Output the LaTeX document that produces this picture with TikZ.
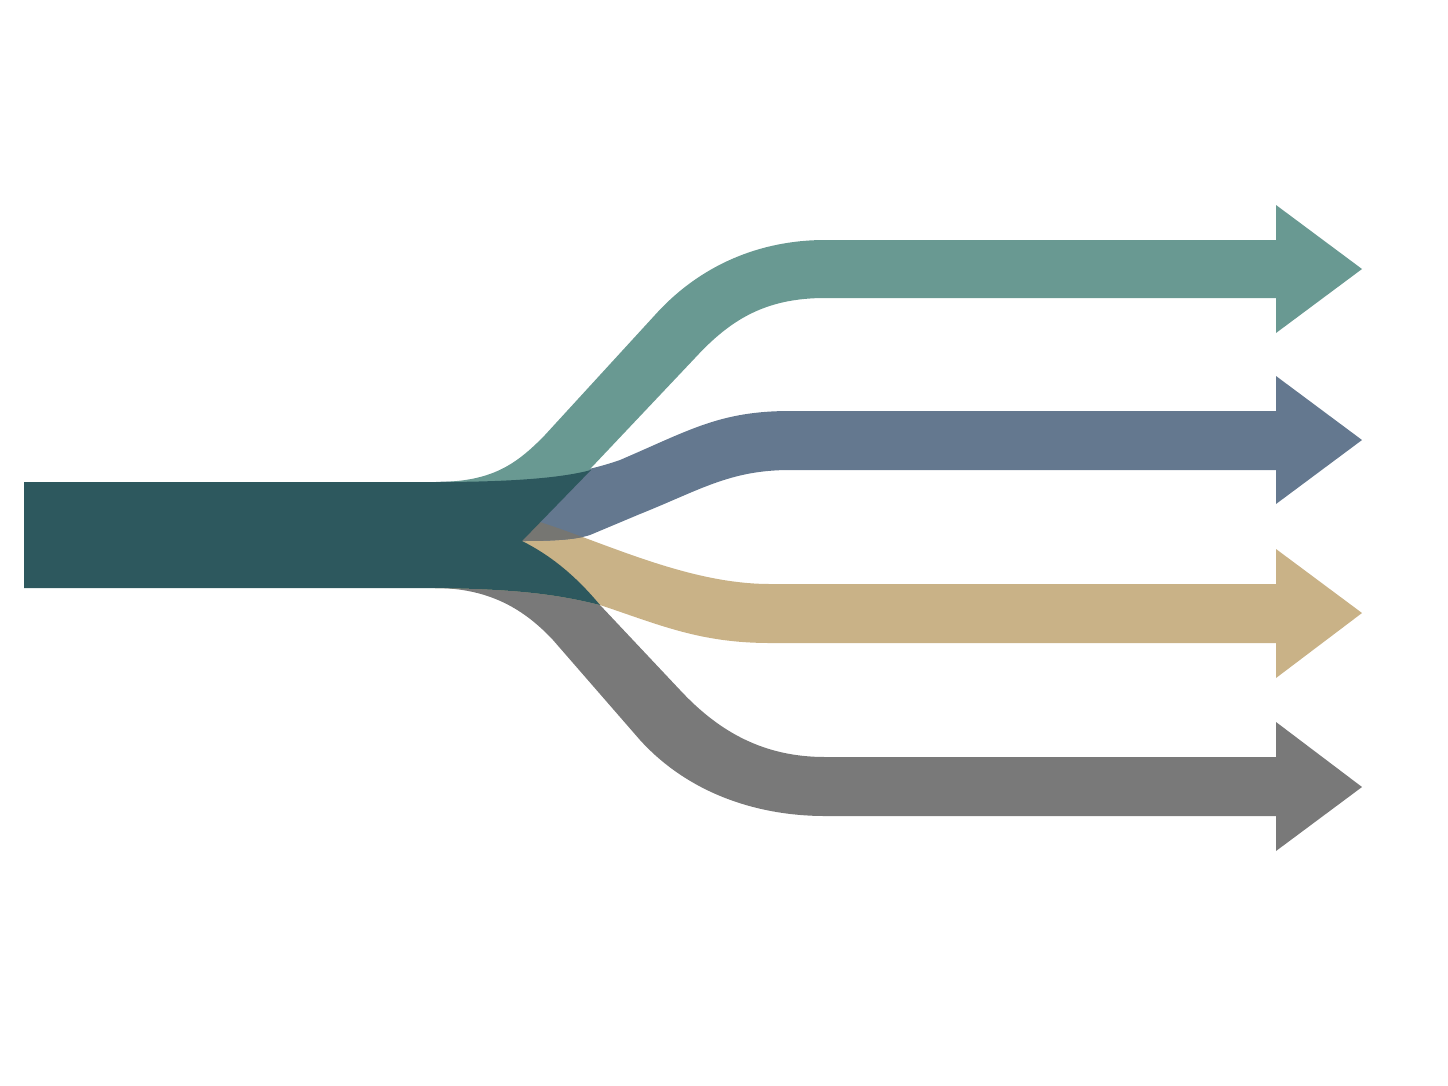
\documentclass[tikz,border=0pt]{standalone}
\usepackage{xcolor}
\usepackage{tikz}
\definecolor{hubteal}{RGB}{45, 88, 94}
\definecolor{bandteal}{RGB}{105, 153, 146}
\definecolor{bandblue}{RGB}{100, 120, 143}
\definecolor{bandtan}{RGB}{201, 178, 135}
\definecolor{bandgray}{RGB}{121, 121, 121}
\definecolor{mixgray}{RGB}{118, 118, 114}

\newcommand{\tealpath}{(435,482) .. controls (490,482) and (515,466) .. (545,435) -- (655,315) .. controls (700,265) and (760,240) .. (825,240) -- (1276,240) -- (1276,205) -- (1362,269) -- (1276,333) -- (1276,298) -- (825,298) .. controls (765,298) and (730,320) .. (695,358) -- (522,541) -- cycle}
\newcommand{\bluepath}{(435,482) .. controls (530,482) and (580,474) .. (620,460) .. controls (690,430) and (720,411) .. (790,411) -- (1276,411) -- (1276,376) -- (1362,440) -- (1276,504) -- (1276,470) -- (790,470) .. controls (730,470) and (700,490) .. (640,514) -- (590,535) .. controls (575,540) and (550,541) .. (522,541) -- cycle}
\newcommand{\tanpath}{(470,503) -- (543,523) .. controls (610,545) and (690,584) .. (770,584) -- (1276,584) -- (1276,549) -- (1362,613) -- (1276,678) -- (1276,643) -- (770,643) .. controls (700,643) and (660,625) .. (600,605) .. controls (560,595) and (520,589) .. (435,588) -- cycle}
\newcommand{\graypath}{(522,541) .. controls (550,555) and (575,575) .. (600,605) -- (680,690) .. controls (720,733) and (765,757) .. (825,757) -- (1276,757) -- (1276,722) -- (1362,787) -- (1276,851) -- (1276,816) -- (825,816) .. controls (760,816) and (690,795) .. (640,740) -- (553,640) .. controls (525,610) and (490,588) .. (435,588) -- cycle}
\newcommand{\hubpath}{(24,482) -- (435,482) .. controls (520,482) and (565,477) .. (591,470) -- (522,541) .. controls (550,555) and (575,575) .. (600,605) .. controls (560,595) and (520,589) .. (435,588) -- (24,588) -- cycle}

\begin{document}
\begin{tikzpicture}[
        x=0.02cm, y=-0.02cm,
        band/.style={draw=none},
        hub/.style={fill=hubteal, draw=none}
    ]

        \useasboundingbox (0,0) rectangle (1448,1086);

        \fill[band, bandgray] \graypath;
        \fill[band, bandtan] \tanpath;
        \fill[band, bandblue] \bluepath;
        \fill[band, bandteal] \tealpath;

        \begin{scope}
            \clip \bluepath;
            \fill[band, mixgray] \tanpath;
        \end{scope}

        \fill[hub] \hubpath;

    \end{tikzpicture}
\end{document}
